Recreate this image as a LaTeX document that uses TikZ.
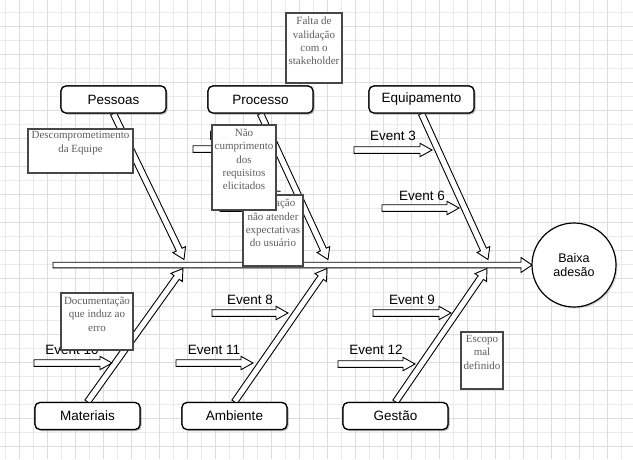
\documentclass[tikz,border=0pt]{standalone}
\usepackage{fontspec}
\setmainfont{Liberation Serif}
\setsansfont{Liberation Sans}
\usetikzlibrary{calc,shadows}
\definecolor{gridmaj}{HTML}{DCDCDC}
\definecolor{gridmin}{HTML}{E9E9E9}
\definecolor{notetext}{HTML}{5E5E5E}
\definecolor{noteedge}{HTML}{474747}
\tikzset{
  labelbox/.style={draw=black, line width=1.2pt, fill=white, rounded corners=5pt,
    minimum width=105pt, minimum height=27pt, inner sep=0pt,
    font=\sffamily\fontsize{13.5}{16}\selectfont,
    drop shadow={shadow xshift=1.5pt, shadow yshift=-1.5pt, opacity=0.35}},
  notebox/.style={draw=noteedge, line width=2pt, fill=white, anchor=north west, inner sep=0pt},
  notetext/.style={text=notetext, font=\rmfamily\fontsize{11}{13.3}\selectfont,
    align=center, anchor=north, inner sep=0pt},
  evlabel/.style={font=\sffamily\fontsize{13.5}{16}\selectfont, inner sep=0pt},
  barrow/.style={draw=black, line width=0.9pt, fill=white, line join=miter},
  gridmajor/.style={draw=gridmaj, line width=0.8pt},
  gridminor/.style={draw=gridmin, line width=0.7pt},
}
% #1 start, #2 end, #3 shaft half width, #4 head half width, #5 head length
\newcommand{\blockarrow}[5]{%
  \coordinate (bahead) at ($(#2)!#5!(#1)$);
  \draw[barrow] ($(#1)!#3!90:(#2)$) -- ($(bahead)!#3!90:(#2)$) -- ($(bahead)!#4!90:(#2)$)
    -- (#2) -- ($(bahead)!#4!-90:(#2)$) -- ($(bahead)!#3!-90:(#2)$) -- ($(#1)!#3!-90:(#2)$) -- cycle;
}
\begin{document}
\begin{tikzpicture}[x=1pt,y=-1pt]
\useasboundingbox (0,0) rectangle (633,459);
\fill[white] (0,0) rectangle (633,459);
% grid
\foreach \x in {5.3,19.3,...,633} \draw[gridminor] (\x,0) -- (\x,459);
\foreach \y in {12,26,...,459} \draw[gridminor] (0,\y) -- (633,\y);
\foreach \x in {19.3,47.3,...,633} \draw[gridmajor] (\x,0) -- (\x,459);
\foreach \y in {26,54,...,459} \draw[gridmajor] (0,\y) -- (633,\y);

% category boxes (positions)
\path (113.5,99.5) node[labelbox] (pessoas) {Pessoas};
\path (260.5,99.5) node[labelbox] (processo) {Processo};
\path (421.5,99.5) node[labelbox] (equip) {Equipamento};
\path (87.5,416) node[labelbox] (materiais) {Materiais};
\path (234.5,416) node[labelbox] (ambiente) {Ambiente};
\path (395.5,416) node[labelbox] (gestao) {Gestão};

% coordinates
\coordinate (sp0) at (53,265);
\coordinate (spend) at (532,265);
\coordinate (tp) at (184,259.5);
\coordinate (tpr) at (328,259.5);
\coordinate (te) at (488,259.5);
\coordinate (tm) at (183,268.5);
\coordinate (ta) at (327,268.5);
\coordinate (tg) at (487,268.5);

% spine
\blockarrow{sp0}{spend}{2.8pt}{7.5pt}{11pt}
% bones
\blockarrow{pessoas.south}{tp}{3.2pt}{7pt}{11pt}
\blockarrow{processo.south}{tpr}{3.2pt}{7pt}{11pt}
\blockarrow{equip.south}{te}{3.2pt}{7pt}{11pt}
\blockarrow{materiais.north}{tm}{3.2pt}{7pt}{11pt}
\blockarrow{ambiente.north}{ta}{3.2pt}{7pt}{11pt}
\blockarrow{gestao.north}{tg}{3.2pt}{7pt}{11pt}

% event arrows
\coordinate (e2a) at (193,149);  \coordinate (e2b) at (273,149);
\coordinate (e3a) at (354,150);  \coordinate (e3b) at (432,150);
\coordinate (e5a) at (220,208);  \coordinate (e5b) at (300,208);
\coordinate (e6a) at (382,208);  \coordinate (e6b) at (459,208);
\coordinate (e8a) at (212,313);  \coordinate (e8b) at (288,313);
\coordinate (e9a) at (373,313);  \coordinate (e9b) at (451,313);
\coordinate (e10a) at (34,363);  \coordinate (e10b) at (112,363);
\coordinate (e11a) at (176,363); \coordinate (e11b) at (253,363);
\coordinate (e12a) at (338,364); \coordinate (e12b) at (415,364);
\foreach \e in {e2,e3,e5,e6,e8,e9,e10,e11,e12}{
  \blockarrow{\e a}{\e b}{3.3pt}{6.7pt}{12pt}
}
\node[evlabel] (ev2) at (232,136) {Event 2};
\node[evlabel] (ev3) at (393,136) {Event 3};
\node[evlabel] (ev5) at (259,196) {Event 5};
\node[evlabel] (ev6) at (422,196) {Event 6};
\node[evlabel] (ev8) at (250,300) {Event 8};
\node[evlabel] (ev9) at (412,300) {Event 9};
\node[evlabel] (ev10) at (72,350) {Event 10};
\node[evlabel] (ev11) at (214,350) {Event 11};
\node[evlabel] (ev12) at (376,350) {Event 12};

% boxes redrawn on top of the bone ends
\path (113.5,99.5) node[labelbox] (pessoasT) {Pessoas};
\path (260.5,99.5) node[labelbox] (processoT) {Processo};
\path (421.5,99.5) node[labelbox] (equipT) {Equipamento};
\path (87.5,416) node[labelbox] (materiaisT) {Materiais};
\path (234.5,416) node[labelbox] (ambienteT) {Ambiente};
\path (395.5,416) node[labelbox] (gestaoT) {Gestão};

% effect
\node[draw=black, circle, line width=1.2pt, minimum size=84pt, fill=white, inner sep=0pt,
  font=\sffamily\fontsize{12.5}{14}\selectfont, align=center,
  drop shadow={shadow xshift=1.5pt, shadow yshift=-1.5pt, opacity=0.3}] (effect) at (574,265) {Baixa\\adesão};

% notes
\node[notebox, minimum width=56pt, minimum height=70pt] (faltabox) at (285,12) {};
\node[notetext] (falta) at ($(faltabox.north)+(0,5)$) {Falta de\\validação\\com o\\stakeholder};

\node[notebox, minimum width=105pt, minimum height=44pt] (descbox) at (27,128) {};
\node[notetext] (desc) at ($(descbox.north)+(0,3.5)$) {Descomprometimento\\da Equipe};

\node[notebox, minimum width=60pt, minimum height=71pt] (aplbox) at (242,194) {};
\node[notetext] (apl) at ($(aplbox.north)+(0,5)$) {Aplicação\\não atender\\expectativas\\do usuário};

\node[notebox, minimum width=64pt, minimum height=85pt] (naobox) at (211,124) {};
\node[notetext] (nao) at ($(naobox.north)+(0,5)$) {Não\\cumprimento\\dos\\requisitos\\elicitados};

\node[notebox, minimum width=72pt, minimum height=57pt] (docbox) at (60,292) {};
\node[notetext] (doc) at ($(docbox.north)+(0,5)$) {Documentação\\que induz ao\\erro};

\node[notebox, minimum width=42pt, minimum height=57pt] (escbox) at (460,331) {};
\node[notetext] (esc) at ($(escbox.north)+(0,4)$) {Escopo\\mal\\definido};
\end{tikzpicture}
\end{document}
